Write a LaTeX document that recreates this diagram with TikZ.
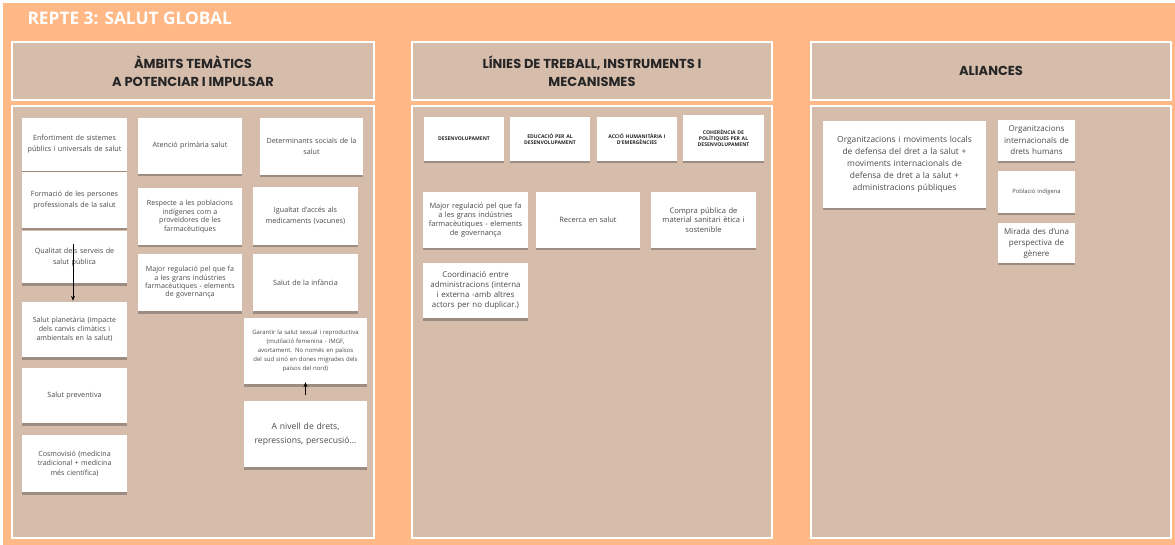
\documentclass[tikz,border=0pt]{standalone}
\usepackage{fontspec}
\setmainfont{Open Sans}
\newfontfamily\hdfont{Poppins}
\usetikzlibrary{shadows,arrows.meta,calc}
\definecolor{orangebg}{HTML}{FFB886}
\definecolor{tanbg}{HTML}{D6BCAB}
\definecolor{notetext}{HTML}{4A4A4A}
\definecolor{hdtext}{HTML}{262626}
\newcommand\fsz[2]{\fontsize{#1}{#2}\selectfont}
\tikzset{
  hdr/.style={draw=white, line width=2.5pt, fill=tanbg, align=center, text=hdtext,
    font=\hdfont\bfseries\fsz{13}{18}},
  panel/.style={draw=white, line width=2.5pt, fill=tanbg},
  note/.style={fill=white, align=center, text=notetext, inner xsep=1pt, inner ysep=2pt,
    execute at begin node={\hyphenpenalty=10000\exhyphenpenalty=10000},
    drop shadow={shadow xshift=0pt, shadow yshift=-2.5pt, opacity=0.35, fill=black!80}},
  sz/.style n args={3}{minimum width=#1, minimum height=#2, text width=#3},
  smallcap/.style={text=hdtext, font=\bfseries\fsz{5.1}{6}},
  arr/.style={draw=black, line width=0.9pt, -{Stealth[length=5pt,width=4pt]}}
}
\begin{document}
\begin{tikzpicture}[x=1pt,y=-1pt]
\useasboundingbox (0,0) rectangle (1175,545);
\fill[white] (0,0) rectangle (1175,545);
\fill[orangebg] (3,3) rectangle (1175,545);

\node[anchor=west, text=white, font=\bfseries\fsz{17.3}{19}] (title) at (24,18.5) {REPTE 3: SALUT GLOBAL};

% headers
\node[hdr, minimum width=362pt, minimum height=58pt] (h1) at (193,71) {ÀMBITS TEMÀTICS\\A POTENCIAR I IMPULSAR};
\node[hdr, minimum width=360pt, minimum height=58pt] (h2) at (592,71) {LÍNIES DE TREBALL, INSTRUMENTS I\\MECANISMES};
\node[hdr, minimum width=360pt, minimum height=58pt] (h3) at (991,71) {ALIANCES};

% panels
\node[panel, minimum width=362pt, minimum height=432pt] (p1) at (193,322) {};
\node[panel, minimum width=360pt, minimum height=432pt] (p2) at (592,322) {};
\node[panel, minimum width=360pt, minimum height=432pt] (p3) at (991,322) {};

% left panel notes
\node[note, sz={105pt}{53pt}{103pt}, font=\fsz{7.2}{11}] (n1) at (74.5,144.5) {Enfortiment de sistemes\\públics i universals de salut};
\node[note, sz={104pt}{56pt}{102pt}, font=\fsz{7.2}{11}] (n2) at (190,146) {Atenció primària salut};
\node[note, sz={103pt}{57pt}{101pt}, font=\fsz{7.2}{11}] (n3) at (311.5,146.5) {Determinants socials de la\\salut};
\node[note, sz={105pt}{56pt}{103pt}, font=\fsz{7.2}{11}] (n4) at (74.5,200) {Formació de les persones\\professionals de la salut};
\node[note, sz={104pt}{57pt}{102pt}, font=\fsz{7.1}{8.6}] (n5) at (190,216.5) {Respecte a les poblacions\\indígenes com a\\proveïdores de les\\farmacèutiques};
\node[note, sz={105pt}{58pt}{103pt}, font=\fsz{7.2}{11}] (n6) at (305.5,216) {Igualtat d'accés als\\medicaments (vacunes)};
\node[note, sz={105pt}{52pt}{103pt}, font=\fsz{7.2}{11}] (n7) at (74.5,257.5) {Qualitat dels serveis de\\salut pública};
\node[note, sz={104pt}{57pt}{102pt}, font=\fsz{7.1}{8.4}] (n8) at (190,282.5) {Major regulació pel que fa\\a les grans indústries\\farmacèutiques - elements\\de governança};
\node[note, sz={105pt}{57pt}{103pt}, font=\fsz{7.2}{11}] (n9) at (305.5,282.5) {Salut de la infància};
\node[note, sz={105pt}{55pt}{103pt}, font=\fsz{7.1}{9.3}] (n10) at (74.5,329.5) {Salut planetària (impacte\\dels canvis climàtics i\\ambientals en la salut)};
\node[note, sz={123pt}{66pt}{121pt}, font=\fsz{6}{9.2}] (n11) at (305.5,351) {Garantir la salut sexual i reproductiva\\(mutilació femenina - IMGF,\\avortament. No només en països\\del sud sinó en dones migrades dels\\països del nord)};
\node[note, sz={105pt}{55pt}{103pt}, font=\fsz{7.2}{11}] (n12) at (74.5,395.5) {Salut preventiva};
\node[note, sz={123pt}{66pt}{121pt}, font=\fsz{8.6}{14}] (n13) at (305.5,434) {A nivell de drets,\\repressions, persecusió...};
\node[note, sz={105pt}{57pt}{103pt}, font=\fsz{7.1}{9.5}] (n14) at (74.5,463.5) {Cosmovisió (medicina\\tradicional  + medicina\\més científica)};

\draw[arr] ($(n7.north)+(-1.5,13)$) -- ($(n10.north)+(-1.5,-1)$);
\draw[arr] ($(n13.north)+(0,-6)$) -- ($(n11.south)+(0,-2)$);

% middle panel notes
\node[note, sz={80pt}{44pt}{78pt}, smallcap] (m1) at (464,139) {DESENVOLUPAMENT};
\node[note, sz={80pt}{44pt}{78pt}, smallcap] (m2) at (550,139) {EDUCACIÓ PER AL\\DESENVOLUPAMENT};
\node[note, sz={80pt}{44pt}{78pt}, smallcap] (m3) at (637,139) {ACCIÓ HUMANITÀRIA I\\D'EMERGÈNCIES};
\node[note, sz={81pt}{46pt}{79pt}, smallcap] (m4) at (723.5,138) {COHERÈNCIA DE\\POLÍTIQUES PER AL\\DESENVOLUPAMENT};
\node[note, sz={105pt}{56pt}{103pt}, font=\fsz{7.4}{9.2}] (m5) at (475.5,220) {Major regulació pel que fa\\a les grans indústries\\farmacèutiques - elements\\de governança};
\node[note, sz={104pt}{56pt}{102pt}, font=\fsz{7.4}{11}] (m6) at (588,220) {Recerca en salut};
\node[note, sz={105pt}{56pt}{103pt}, font=\fsz{7.6}{9.3}] (m7) at (703.5,220) {Compra pública de\\material sanitari ètica i\\sostenible};
\node[note, sz={105pt}{55pt}{103pt}, font=\fsz{7.9}{10}] (m8) at (475.5,290.5) {Coordinació entre\\administracions (interna\\i externa -amb altres\\actors per no duplicar.)};

% right panel notes
\node[note, sz={163pt}{87pt}{161pt}, font=\fsz{8.4}{12}] (r1) at (904.5,164.5) {Organitzacions i moviments locals\\de defensa del dret a la salut +\\moviments internacionals de\\defensa de dret a la salut +\\administracions públiques};
\node[note, sz={77pt}{41pt}{75pt}, font=\fsz{8}{11.5}] (r2) at (1036.5,140.5) {Organitzacions\\internacionals de\\drets humans};
\node[note, sz={77pt}{42pt}{75pt}, font=\fsz{5.8}{7}] (r3) at (1036.5,192) {Població indígena};
\node[note, sz={77pt}{40pt}{75pt}, font=\fsz{8}{11}] (r4) at (1036.5,243) {Mirada des d'una\\perspectiva de\\gènere};
\end{tikzpicture}
\end{document}
